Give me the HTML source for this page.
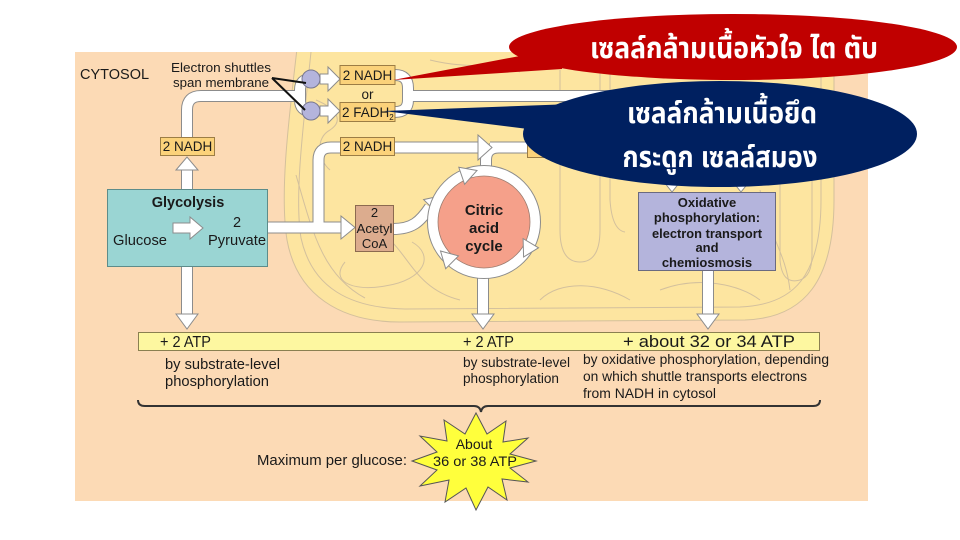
<!DOCTYPE html>
<html>
<head>
<meta charset="utf-8">
<style>
html,body{margin:0;padding:0;background:#fff;}
svg{display:block;}
text{font-family:"Liberation Sans",Arial,sans-serif;fill:#1a1a1a;}
.th{font-family:"Liberation Sans","Noto Sans Thai","Tlwg Typist","Garuda","Loma",sans-serif;fill:#fff;font-weight:bold;}
</style>
</head>
<body>
<svg width="960" height="540" viewBox="0 0 960 540" xmlns="http://www.w3.org/2000/svg">
  <defs>
    <clipPath id="panel"><rect x="75" y="52" width="793" height="449"/></clipPath>
  </defs>
  <!-- panel -->
  <rect x="75" y="52" width="793" height="449" fill="#fcdab5"/>
  <g clip-path="url(#panel)">
    <!-- mitochondrion -->
    <path d="M298,40 C290,110 279,190 287,240 C297,295 340,322 400,322 L745,320 C805,318 834,280 834,200 L834,40 Z" fill="#fde5a0" stroke="#d4c09c" stroke-width="1"/>
    <g fill="none" stroke="#d3c09d" stroke-width="1">
      <path d="M311,52 C304,120 294,195 301,238 C312,288 350,308 405,309 L740,307 C795,305 821,275 821,200 L821,52"/>
      <path d="M296,175 C312,230 322,275 365,298"/>
      <path d="M345,262 C330,280 350,292 385,286 C425,280 435,255 412,242"/>
      <path d="M392,242 C410,260 420,290 460,300"/>
      <path d="M316,100 C335,108 345,120 330,130 C315,138 318,160 330,170"/>
      <path d="M540,300 C560,280 600,282 630,300"/>
      <path d="M560,70 V230 Q560,262 580,262 Q600,262 600,230 V70"/>
      <path d="M610,60 V200 Q612,230 625,232"/>
      <path d="M780,150 V260 Q782,285 800,280 Q812,276 812,255 V150"/>
      <path d="M760,190 C770,240 785,250 790,290"/>
      <path d="M660,290 C700,275 740,285 760,300"/>
      <path d="M430,60 C470,70 500,62 520,72"/>
      <path d="M700,60 C720,70 740,68 760,60"/>
    </g>
  </g>

  <!-- text labels top-left -->
  <text x="80" y="79" font-size="14.5">CYTOSOL</text>
  <text x="171" y="72" font-size="13" textLength="100" lengthAdjust="spacingAndGlyphs">Electron shuttles</text>
  <text x="173" y="87" font-size="13" textLength="96" lengthAdjust="spacingAndGlyphs">span membrane</text>

  <!-- pipes: gray outline + white core -->
  <g fill="none" stroke="#8c8c8c" stroke-width="12" stroke-linejoin="round">
    <path d="M187,137 V110 Q187,96 201,96 H302"/>
    <path d="M311,79 Q300,79 300,90 V100 Q300,111 311,111"/>
    <path d="M395,75 Q408,75 408,88 V100 Q408,112 395,112"/>
    <path d="M408,96 H690"/>
    <path d="M187,189 V168"/>
    <path d="M187,267 V315"/>
    <path d="M483,272 V315"/>
    <path d="M708,270 V315"/>
    <path d="M268,227.5 H342"/>
    <path d="M318.5,228 V160 Q318.5,147.5 331,147.5 H341"/>
    <path d="M395,147.5 H480"/>
    <path d="M490,147.5 H528"/>
    <path d="M486,175 V160 Q486,147.5 499,147.5"/>
    <path d="M393,229 C412,229 420,222 430,207"/>
    <path d="M672,150 V184"/>
    <path d="M741,150 V184"/>
  </g>
  <g fill="none" stroke="#ffffff" stroke-width="10" stroke-linejoin="round">
    <path d="M187,137 V110 Q187,96 201,96 H302"/>
    <path d="M311,79 Q300,79 300,90 V100 Q300,111 311,111"/>
    <path d="M395,75 Q408,75 408,88 V100 Q408,112 395,112"/>
    <path d="M408,96 H690"/>
    <path d="M187,189 V168"/>
    <path d="M187,267 V315"/>
    <path d="M483,272 V315"/>
    <path d="M708,270 V315"/>
    <path d="M268,227.5 H342"/>
    <path d="M318.5,228 V160 Q318.5,147.5 331,147.5 H341"/>
    <path d="M395,147.5 H480"/>
    <path d="M490,147.5 H528"/>
    <path d="M486,175 V160 Q486,147.5 499,147.5"/>
    <path d="M393,229 C412,229 420,222 430,207"/>
    <path d="M672,150 V184"/>
    <path d="M741,150 V184"/>
  </g>

  <!-- arrowheads -->
  <g fill="#ffffff" stroke="#8c8c8c" stroke-width="1" stroke-linejoin="miter">
    <polygon points="176,170 187,157 198,170"/>
    <polygon points="176,314 198,314 187,329"/>
    <polygon points="472,314 494,314 483,329"/>
    <polygon points="697,314 719,314 708,329"/>
    <polygon points="341,216 355,227.5 341,239"/>
    <polygon points="478,135 492,147.5 478,160"/>
    <polygon points="436.4,212.4 440,196 423.6,199.6"/>
    <polygon points="664,182 680,182 672,192"/>
    <polygon points="733,182 749,182 741,192"/>
    <!-- shuttle arrows -->
    <polygon points="320,74 328,74 328,67 340,79 328,91 328,84 320,84"/>
    <polygon points="320,106 328,106 328,99 340,111 328,123 328,116 320,116"/>
  </g>

  <!-- shuttle circles -->
  <circle cx="311" cy="79" r="9" fill="#b4b4dc" stroke="#77778f" stroke-width="1"/>
  <circle cx="311" cy="111" r="9" fill="#b4b4dc" stroke="#77778f" stroke-width="1"/>
  <line x1="272" y1="78" x2="306" y2="83" stroke="#111" stroke-width="2"/>
  <line x1="272" y1="78" x2="305" y2="110" stroke="#111" stroke-width="2"/>

  <!-- NADH boxes -->
  <g fill="#fbd27a" stroke="#9c7d45" stroke-width="1">
    <rect x="340" y="65.5" width="55" height="19"/>
    <rect x="340" y="102.5" width="55" height="19"/>
    <rect x="160.5" y="137.5" width="54" height="18"/>
    <rect x="340.5" y="137.5" width="54" height="18"/>
    <rect x="527.5" y="139.5" width="40" height="18"/>
  </g>
  <text x="367.5" y="80" font-size="13.5" text-anchor="middle">2 NADH</text>
  <text x="367.5" y="99" font-size="13.5" text-anchor="middle">or</text>
  <text x="342" y="117" font-size="13.5">2 FADH<tspan font-size="8" dy="3">2</tspan></text>
  <text x="187.5" y="151" font-size="13.5" text-anchor="middle">2 NADH</text>
  <text x="367.5" y="151" font-size="13.5" text-anchor="middle">2 NADH</text>

  <!-- Glycolysis box -->
  <rect x="107.5" y="189.5" width="160" height="77" fill="#9ad5d3" stroke="#5d8c8a" stroke-width="1"/>
  <text x="188" y="207" font-size="14.5" font-weight="bold" text-anchor="middle">Glycolysis</text>
  <text x="237" y="227" font-size="14.5" text-anchor="middle">2</text>
  <text x="113" y="245" font-size="14.5" textLength="54" lengthAdjust="spacingAndGlyphs">Glucose</text>
  <text x="208" y="245" font-size="14.5" textLength="58" lengthAdjust="spacingAndGlyphs">Pyruvate</text>
  <polygon points="173,223 190,223 190,217 203,228 190,239 190,233 173,233" fill="#fff" stroke="#8c8c8c" stroke-width="1"/>

  <!-- Acetyl CoA -->
  <rect x="355.5" y="205.5" width="38" height="46" fill="#dcac8e" stroke="#8c6a50" stroke-width="1"/>
  <text x="374.5" y="217" font-size="13" text-anchor="middle">2</text>
  <text x="374.5" y="233" font-size="13" text-anchor="middle" textLength="36" lengthAdjust="spacingAndGlyphs">Acetyl</text>
  <text x="374.5" y="248" font-size="13" text-anchor="middle">CoA</text>

  <!-- Citric acid cycle -->
  <circle cx="484" cy="222" r="51" fill="none" stroke="#8c8c8c" stroke-width="12"/>
  <circle cx="484" cy="222" r="51" fill="none" stroke="#ffffff" stroke-width="10"/>
  <circle cx="484" cy="222" r="46" fill="#f5a08a" stroke="#9c7d70" stroke-width="0.8"/>
  <g fill="#fff" stroke="#8c8c8c" stroke-width="1">
    <polygon points="458.8,167.3 477,170.5 464.6,184.3"/>
    <polygon points="538.5,247.8 523.6,257 523.1,238.6"/>
    <polygon points="445.7,268.7 440.5,251 458.5,255.9"/>
  </g>
  <text x="484" y="215" font-size="15" font-weight="bold" text-anchor="middle">Citric</text>
  <text x="484" y="233" font-size="15" font-weight="bold" text-anchor="middle">acid</text>
  <text x="484" y="251" font-size="15" font-weight="bold" text-anchor="middle">cycle</text>

  <!-- Oxidative phosphorylation -->
  <rect x="638.5" y="192.5" width="137" height="78" fill="#b4b4dc" stroke="#6a6a80" stroke-width="1"/>
  <g font-size="13" font-weight="bold" text-anchor="middle">
    <text x="707" y="207">Oxidative</text>
    <text x="707" y="222">phosphorylation:</text>
    <text x="707" y="238" textLength="110" lengthAdjust="spacingAndGlyphs">electron transport</text>
    <text x="707" y="252">and</text>
    <text x="707" y="267">chemiosmosis</text>
  </g>

  <!-- ATP bar -->
  <rect x="138.5" y="332.5" width="681" height="18" fill="#fdf7a0" stroke="#8a8050" stroke-width="1"/>
  <text x="160" y="347" font-size="16" textLength="51" lengthAdjust="spacingAndGlyphs">+ 2 ATP</text>
  <text x="463" y="347" font-size="16" textLength="51" lengthAdjust="spacingAndGlyphs">+ 2 ATP</text>
  <text x="623" y="347" font-size="16.5" textLength="172" lengthAdjust="spacingAndGlyphs">+ about 32 or 34 ATP</text>

  <text x="165" y="369" font-size="14.5" textLength="115" lengthAdjust="spacingAndGlyphs">by substrate-level</text>
  <text x="165" y="386" font-size="14.5" textLength="104" lengthAdjust="spacingAndGlyphs">phosphorylation</text>
  <text x="463" y="367" font-size="13.5" textLength="107" lengthAdjust="spacingAndGlyphs">by substrate-level</text>
  <text x="463" y="383" font-size="13.5" textLength="96" lengthAdjust="spacingAndGlyphs">phosphorylation</text>
  <text x="583" y="364" font-size="13.5" textLength="246" lengthAdjust="spacingAndGlyphs">by oxidative phosphorylation, depending</text>
  <text x="583" y="381" font-size="13.5" textLength="224" lengthAdjust="spacingAndGlyphs">on which shuttle transports electrons</text>
  <text x="583" y="398" font-size="13.5" textLength="133" lengthAdjust="spacingAndGlyphs">from NADH in cytosol</text>

  <!-- brace -->
  <path d="M138,400 Q138,406 145,406 H474 Q480,406 481,412 Q482,406 488,406 H813 Q820,406 820,400" fill="none" stroke="#333" stroke-width="2"/>

  <!-- star -->
  <polygon points="536,461 510,468 528,482 502,479 507,500 488,487 476,510 466,488 445,502 449,480 420,486 437,470 412,461 437,452 420,436 447,441 444,420 465,434 476,413 487,434 506,421 503,442 528,438 510,454" fill="#ffff3c" stroke="#555" stroke-width="1"/>
  <text x="474" y="449" font-size="14" text-anchor="middle">About</text>
  <text x="475" y="466" font-size="14" text-anchor="middle" textLength="84" lengthAdjust="spacingAndGlyphs">36 or 38 ATP</text>
  <text x="257" y="465" font-size="14.5" textLength="150" lengthAdjust="spacingAndGlyphs">Maximum per glucose:</text>

  <!-- red callout -->
  <polygon points="393,80 562,48 562,69" fill="#c00000"/>
  <ellipse cx="733" cy="47" rx="224" ry="33" fill="#c00000"/>
  <text class="th" x="734" y="58" font-size="29" text-anchor="middle" textLength="288" lengthAdjust="spacingAndGlyphs">เซลล์กล้ามเนื้อหัวใจ ไต ตับ</text>

  <!-- blue callout -->
  <polygon points="384,111 600,103 600,138" fill="#002060"/>
  <ellipse cx="720" cy="134" rx="197" ry="53" fill="#002060"/>
  <text class="th" x="722" y="123" font-size="29" text-anchor="middle" textLength="190" lengthAdjust="spacingAndGlyphs">เซลล์กล้ามเนื้อยึด</text>
  <text class="th" x="720" y="167" font-size="29" text-anchor="middle" textLength="195" lengthAdjust="spacingAndGlyphs">กระดูก เซลล์สมอง</text>
</svg>
</body>
</html>
